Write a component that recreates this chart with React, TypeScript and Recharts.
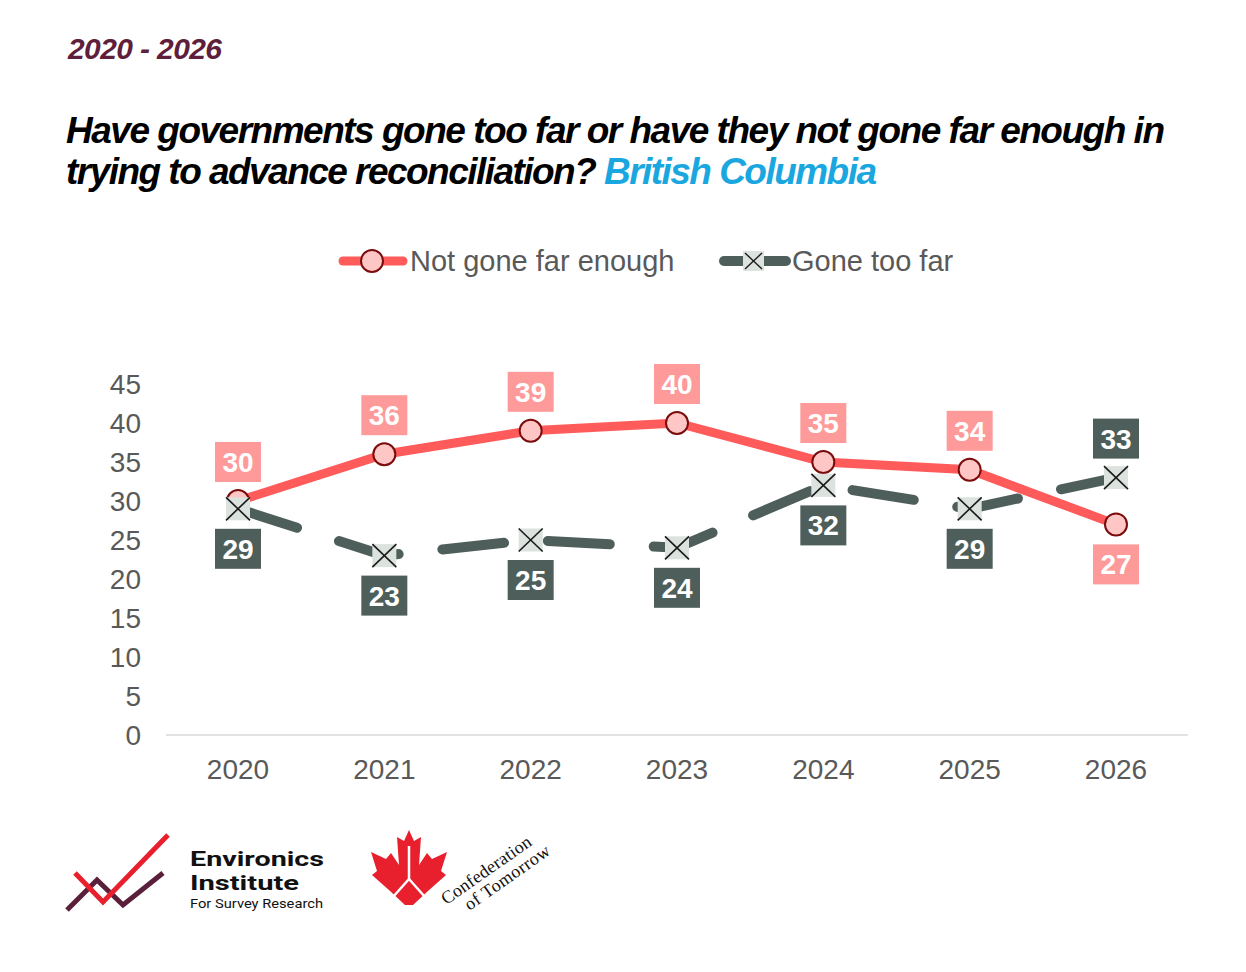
import { LineChart, Line, XAxis, YAxis, LabelList } from 'recharts';

const YEARS = ['2020', '2021', '2022', '2023', '2024', '2025', '2026'];
const NOT_FAR_ENOUGH = [30, 36, 39, 40, 35, 34, 27];
const GONE_TOO_FAR = [29, 23, 25, 24, 32, 29, 33];
const Y_TICKS = [0, 5, 10, 15, 20, 25, 30, 35, 40, 45];

const FONT = '"Liberation Sans", Arial, sans-serif';
const RED = '#FF5B5B';
const RED_BOX = '#FF9A9A';
const DARK = '#4E5F5B';
const AXIS_TEXT = '#595959';

const data = YEARS.map((year, i) => ({
  year,
  notFar: NOT_FAR_ENOUGH[i],
  tooFar: GONE_TOO_FAR[i],
}));

// label sits on the side away from the other series
function makeLabel(other: number[], fill: string) {
  return (props: any) => {
    const { x, y, index, value } = props;
    if (x == null || y == null) return null;
    const above = value > other[index];
    const cy = above ? y - 39 : y + 40;
    return (
      <g key={`lbl-${index}`}>
        <rect x={x - 23} y={cy - 20} width={46} height={40} fill={fill} />
        <text x={x} y={cy + 10} textAnchor="middle" fontSize={28} fontWeight="bold" fill="#fff" fontFamily={FONT}>
          {value}
        </text>
      </g>
    );
  };
}

function CircleDot(props: any) {
  const { cx, cy, index } = props;
  if (cx == null || cy == null) return null;
  return <circle key={`c-${index}`} cx={cx} cy={cy} r={11} fill="#FFC6C6" stroke="#7A0C0C" strokeWidth={2} />;
}

function CrossDot(props: any) {
  const { cx, cy, index } = props;
  if (cx == null || cy == null) return null;
  const w = 12, h = 11.5;
  return (
    <g key={`x-${index}`}>
      <rect x={cx - w} y={cy - h} width={w * 2} height={h * 2} fill="#DCE3DF" />
      <line x1={cx - w} y1={cy - h} x2={cx + w} y2={cy + h} stroke="#1a1a1a" strokeWidth={1.6} />
      <line x1={cx - w} y1={cy + h} x2={cx + w} y2={cy - h} stroke="#1a1a1a" strokeWidth={1.6} />
    </g>
  );
}

const leafRight: [number, number][] = [
  [0, 830], [5, 841], [12, 837], [10, 865], [18, 853], [23, 859], [38, 852],
  [32, 871], [37, 875], [19, 891], [4, 905],
];
const leafPoints = [
  ...leafRight.map(([dx, y]) => `${409 + dx},${y}`),
  ...leafRight.slice(1).reverse().map(([dx, y]) => `${409 - dx},${y}`),
].join(' ');

export default function App() {
  return (
    <div style={{ position: 'absolute', left: 0, top: 0, width: 1246, height: 972, background: '#fff', fontFamily: FONT }}>
      <div style={{ position: 'absolute', left: 0, top: 0 }}>
        <LineChart width={1246} height={972} data={data} margin={{ top: 384, right: 58, bottom: 177, left: 106 }}>
          <XAxis
            dataKey="year"
            padding={{ left: 72, right: 72 }}
            axisLine={{ stroke: '#D9D9D9', strokeWidth: 1.5 }}
            tickLine={false}
            tickSize={0}
            tickMargin={24}
            height={60}
            tick={{ fontSize: 28, fill: AXIS_TEXT, fontFamily: FONT }}
          />
          <YAxis
            domain={[0, 45]}
            ticks={Y_TICKS}
            interval={0}
            axisLine={false}
            tickLine={false}
            tickSize={0}
            tickMargin={25}
            width={60}
            tick={{ fontSize: 28, fill: AXIS_TEXT, fontFamily: FONT }}
          />
          <Line
            dataKey="notFar"
            stroke={RED}
            strokeWidth={9}
            strokeLinecap="round"
            dot={CircleDot}
            activeDot={false}
            isAnimationActive={false}
          >
            <LabelList dataKey="notFar" content={makeLabel(GONE_TOO_FAR, RED_BOX)} />
          </Line>
          <Line
            dataKey="tooFar"
            stroke={DARK}
            strokeWidth={10}
            strokeDasharray="62 44"
            strokeLinecap="round"
            dot={CrossDot}
            activeDot={false}
            isAnimationActive={false}
          >
            <LabelList dataKey="tooFar" content={makeLabel(NOT_FAR_ENOUGH, DARK)} />
          </Line>
        </LineChart>
      </div>

      <svg width={1246} height={972} style={{ position: 'absolute', left: 0, top: 0, pointerEvents: 'none' }} fontFamily={FONT}>
        {/* header */}
        <text x={68} y={59} fontSize={30} fontWeight="bold" fontStyle="italic" fill="#5E1E3C" textLength={154} lengthAdjust="spacing">
          2020 - 2026
        </text>
        <text x={66} y={143} fontSize={37} fontWeight="bold" fontStyle="italic" fill="#000" textLength={1099} lengthAdjust="spacing">
          Have governments gone too far or have they not gone far enough in
        </text>
        <text x={66} y={184} fontSize={37} fontWeight="bold" fontStyle="italic" fill="#000" textLength={811} lengthAdjust="spacing">
          trying to advance reconciliation? <tspan fill="#1AA7E0">British Columbia</tspan>
        </text>

        {/* legend */}
        <line x1={343} y1={261} x2={403} y2={261} stroke={RED} strokeWidth={9} strokeLinecap="round" />
        <CircleDot cx={372} cy={261} index={0} />
        <text x={410} y={271} fontSize={29} fill={AXIS_TEXT}>Not gone far enough</text>
        <line x1={724} y1={261} x2={786} y2={261} stroke={DARK} strokeWidth={10} strokeLinecap="round" />
        <rect x={743} y={251} width={21} height={20} fill="#DCE3DF" />
        <line x1={745} y1={253} x2={762} y2={269} stroke="#1a1a1a" strokeWidth={1.4} />
        <line x1={745} y1={269} x2={762} y2={253} stroke="#1a1a1a" strokeWidth={1.4} />
        <text x={792} y={271} fontSize={29} fill={AXIS_TEXT}>Gone too far</text>

        {/* Environics logo */}
        <polyline points="67,910 97,880 123,905 163,873" fill="none" stroke="#5A1F3A" strokeWidth={5} />
        <polyline points="75,873 103,902 168,835" fill="none" stroke="#E8202E" strokeWidth={5} />
        <text x={190} y={866} fontSize={20} fontWeight="bold" fill="#111" fontFamily="Roboto, sans-serif" textLength={134} lengthAdjust="spacingAndGlyphs">
          Environics
        </text>
        <text x={190} y={890} fontSize={20} fontWeight="bold" fill="#111" fontFamily="Roboto, sans-serif" textLength={109} lengthAdjust="spacingAndGlyphs">
          Institute
        </text>
        <text x={190} y={908} fontSize={13} fill="#111" fontFamily="Roboto, sans-serif" textLength={133} lengthAdjust="spacingAndGlyphs">
          For Survey Research
        </text>

        {/* Confederation of Tomorrow logo */}
        <polygon points={leafPoints} fill="#E8202E" />
        <line x1={409} y1={846} x2={409} y2={879} stroke="#fff" strokeWidth={2.5} />
        <line x1={409} y1={879} x2={393} y2={897} stroke="#fff" strokeWidth={2.5} />
        <line x1={409} y1={879} x2={425} y2={897} stroke="#fff" strokeWidth={2.5} />
        <text fontSize={18} fill="#111" fontFamily='"Liberation Serif", serif' transform="rotate(-35 455 904)">
          <tspan x={447} y={900} textLength={106}>Confederation</tspan>
          <tspan x={463} y={918} textLength={100}>of Tomorrow</tspan>
        </text>
      </svg>
    </div>
  );
}
